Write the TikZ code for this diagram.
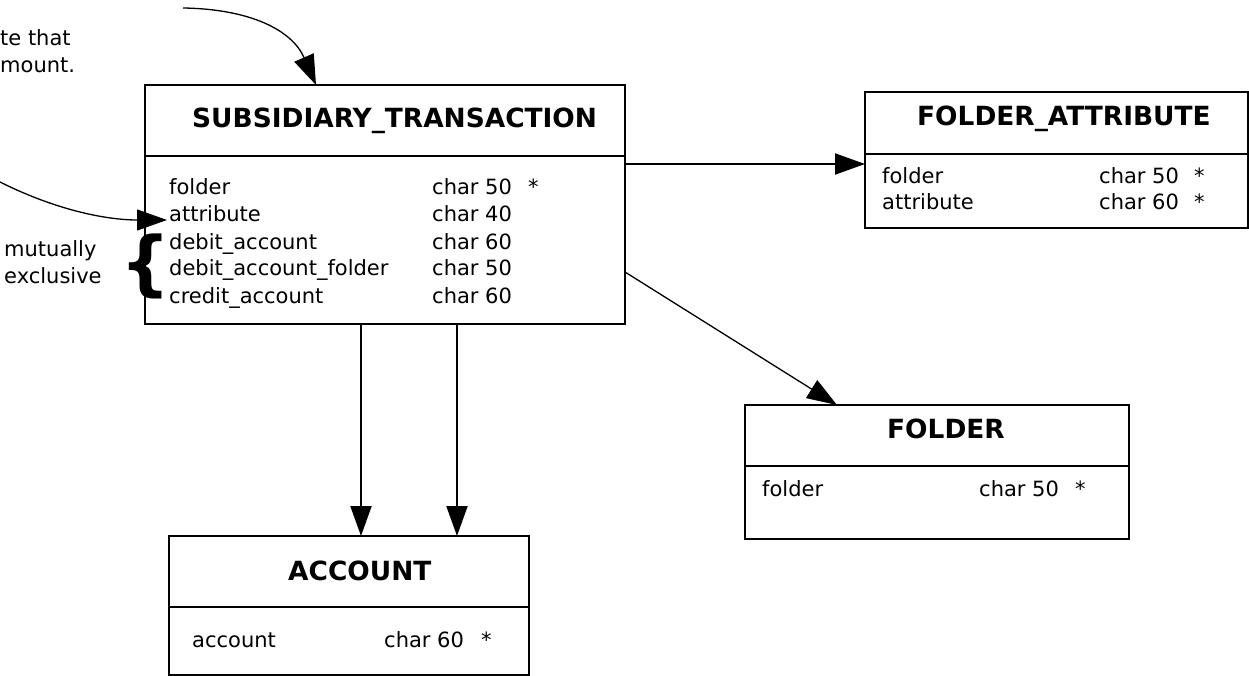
\documentclass[tikz,border=0pt]{standalone}
\usepackage{fontspec}
\setmainfont{DejaVu Sans}
\usetikzlibrary{arrows.meta,calc}
\tikzset{
  ent/.style={draw, line width=2pt, rectangle, inner sep=0pt, outer sep=0pt, anchor=north west},
  divline/.style={line width=2pt},
  row/.style={font=\fontsize{21}{27}\selectfont, inner sep=0pt, anchor=base west},
  ttl/.style={font=\fontsize{26.4}{30}\selectfont\bfseries, inner sep=0pt, anchor=base west},
  arr/.style={line width=2pt, -{Triangle[length=30pt,width=21pt]}},
  arrthin/.style={line width=1.3pt, -{Triangle[length=30pt,width=21pt]}},
}
\begin{document}
\begin{tikzpicture}[x=1pt,y=-1pt]
\useasboundingbox (0,0) rectangle (1249,676);

% SUBSIDIARY_TRANSACTION
\node[ent, minimum width=480pt, minimum height=239pt] (st) at (145,85) {};
\draw[divline] (st.west |- 0,156) -- (st.east |- 0,156);
\node[ttl] (stt) at (192,128) {SUBSIDIARY\_TRANSACTION};
\node[row] (st1a) at (169,195) {folder};
\node[row] (st1b) at (432,195) {char 50};
\node[row] (st1c) at (528,195) {*};
\node[row] (st2a) at (169,222) {attribute};
\node[row] (st2b) at (432,222) {char 40};
\node[row] (st3a) at (169,249) {debit\_account};
\node[row] (st3b) at (432,249) {char 60};
\node[row] (st4a) at (169,276) {debit\_account\_folder};
\node[row] (st4b) at (432,276) {char 50};
\node[row] (st5a) at (169,303) {credit\_account};
\node[row] (st5b) at (432,303) {char 60};

% FOLDER_ATTRIBUTE
\node[ent, minimum width=383pt, minimum height=136pt] (fa) at (865,92) {};
\draw[divline] (fa.west |- 0,154) -- (fa.east |- 0,154);
\node[ttl] (fat) at (917,126) {FOLDER\_ATTRIBUTE};
\node[row] (fa1a) at (882,184) {folder};
\node[row] (fa1b) at (1099,184) {char 50};
\node[row] (fa1c) at (1194,184) {*};
\node[row] (fa2a) at (882,210) {attribute};
\node[row] (fa2b) at (1099,210) {char 60};
\node[row] (fa2c) at (1194,210) {*};

% FOLDER
\node[ent, minimum width=384pt, minimum height=134pt] (fo) at (745,405) {};
\draw[divline] (fo.west |- 0,466) -- (fo.east |- 0,466);
\node[ttl] (fot) at (887,438) {FOLDER};
\node[row] (fo1a) at (762,496) {folder};
\node[row] (fo1b) at (979,496) {char 50};
\node[row] (fo1c) at (1075,496) {*};

% ACCOUNT
\node[ent, minimum width=360pt, minimum height=139pt] (acc) at (169,536) {};
\draw[divline] (acc.west |- 0,607) -- (acc.east |- 0,607);
\node[ttl] (acct) at (288,580) {ACCOUNT};
\node[row] (acc1a) at (192,647) {account};
\node[row] (acc1b) at (384,647) {char 60};
\node[row] (acc1c) at (481,647) {*};

% notes
\node[row] (n1a) at (0,46) {te that};
\node[row] (n1b) at (0,73) {mount.};
\node[row] (mx1) at (4,257) {mutually};
\node[row] (mx2) at (4,283) {exclusive};
\node[font=\fontsize{70.6}{70}\selectfont\bfseries, inner sep=0pt, anchor=base west] (br) at (120,287) {\{};

% connectors
\coordinate (c1) at (183,8);
\coordinate (c2) at (0,182);
\draw[arr] (st.east |- 0,164) -- (fa.west |- 0,164);
\draw[arrthin] (st.east |- 0,272) -- ($(fo.north west)+(92,0)$);
\draw[arr] ($(st.south west)+(216,0)$) -- ($(acc.north west)+(192,0)$);
\draw[arr] ($(st.south west)+(312,0)$) -- ($(acc.north west)+(288,0)$);
\draw[arrthin] (c1) .. controls (250,9) and (292,30) .. ($(st.north west)+(171,0)$);
\draw[arrthin] (c2) .. controls (60,212) and (110,220) .. ($(st.west |- 0,220)+(22,0)$);
\end{tikzpicture}
\end{document}
